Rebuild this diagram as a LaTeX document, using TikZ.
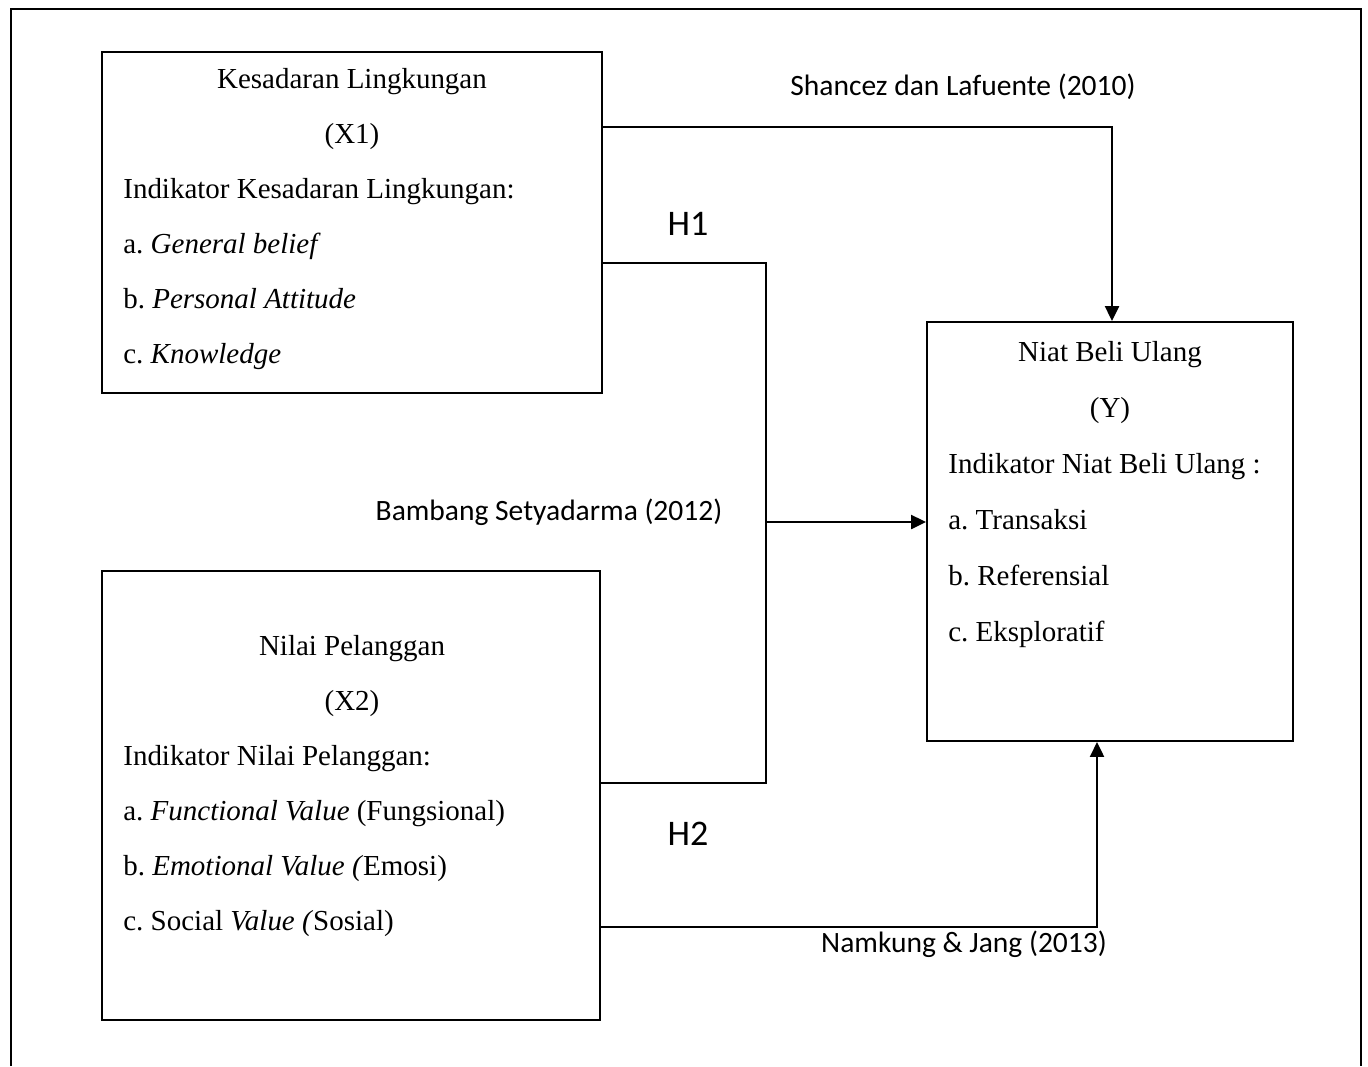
\documentclass[tikz,border=0pt]{standalone}
\usepackage{fontspec}
\setmainfont{Liberation Serif}
\newfontfamily\calibri{Carlito}
\usepackage{tikz}
\usetikzlibrary{arrows.meta}
\frenchspacing

\begin{document}
\begin{tikzpicture}[x=0.02cm, y=-0.02cm,
    box/.style={draw, line width=1.2pt, inner sep=0pt},
    mid/.style={anchor=base, inner sep=0pt, font=\fontsize{16.5}{20}\selectfont},
    lft/.style={anchor=base west, inner sep=0pt, font=\fontsize{16.5}{20}\selectfont},
    src/.style={anchor=base, inner sep=0pt, font=\calibri\fontsize{16.8}{20}\selectfont},
    hyp/.style={anchor=base, inner sep=0pt, font=\calibri\fontsize{20.5}{24}\selectfont},
    arr/.style={line width=1.2pt, -{Triangle[length=8.5pt,width=8pt]}},
    thinline/.style={line width=0.6pt}]
          \useasboundingbox (0,0) rectangle (1368,1066);
          \draw[line width=1.2pt] (11,1066) -- (11,9) -- (1361,9) -- (1361,1066);

          \node[box, minimum width=10cm, minimum height=6.82cm] (x1) at (352,222.5) {};
          \node[box, minimum width=9.96cm, minimum height=8.98cm] (x2) at (351,795.5) {};
          \node[box, minimum width=7.32cm, minimum height=8.38cm] (y) at (1110,531.5) {};

          \node[mid] (x1a) at (352,88)  {Kesadaran Lingkungan};
          \node[mid] (x1b) at (352,143) {(X1)};
          \node[lft] (x1c) at (123,198) {Indikator Kesadaran Lingkungan:};
          \node[lft] (x1d) at (123,253) {a. \textit{General belief}};
          \node[lft] (x1e) at (123,308) {b. \textit{Personal Attitude}};
          \node[lft] (x1f) at (123,363) {c. \textit{Knowledge}};

          \node[mid] (x2a) at (352,655) {Nilai Pelanggan};
          \node[mid] (x2b) at (352,710) {(X2)};
          \node[lft] (x2c) at (123,765) {Indikator Nilai Pelanggan:};
          \node[lft] (x2d) at (123,820) {a. \textit{Functional Value} (Fungsional)};
          \node[lft] (x2e) at (123,875) {b. \textit{Emotional Value (}Emosi)};
          \node[lft] (x2f) at (123,930) {c. Social \textit{Value (}Sosial)};

          \node[mid] (ya) at (1110,361) {Niat Beli Ulang};
          \node[mid] (yb) at (1110,417) {(Y)};
          \node[lft] (yc) at (948,473) {Indikator Niat Beli Ulang :};
          \node[lft] (yd) at (948,529) {a. Transaksi};
          \node[lft] (ye) at (948,585) {b. Referensial};
          \node[lft] (yf) at (948,641) {c. Eksploratif};

          \node[src] (s1) at (963,95)  {Shancez dan Lafuente (2010)};
          \node[src] (s2) at (549,520) {Bambang Setyadarma (2012)};
          \node[src] (s3) at (964,952) {Namkung \& Jang (2013)};
          \node[hyp] (h1) at (688,235) {H1};
          \node[hyp] (h2) at (688,845) {H2};

          \coordinate (j1) at (1112,127);
          \coordinate (b1) at (766,263);
          \coordinate (b2) at (766,783);
          \coordinate (bm) at (766,522);
          \coordinate (j3) at (1097,927);

          \draw[arr] (x1.east |- j1) -- (j1) -- (j1 |- y.north);
          \draw[thinline] (x1.east |- b1) -- (b1) -- (b2) -- (x2.east |- b2);
          \draw[arr] (bm) -- (y.west |- bm);
          \draw[arr] (x2.east |- j3) -- (j3) -- (j3 |- y.south);
        \end{tikzpicture}
\end{document}
